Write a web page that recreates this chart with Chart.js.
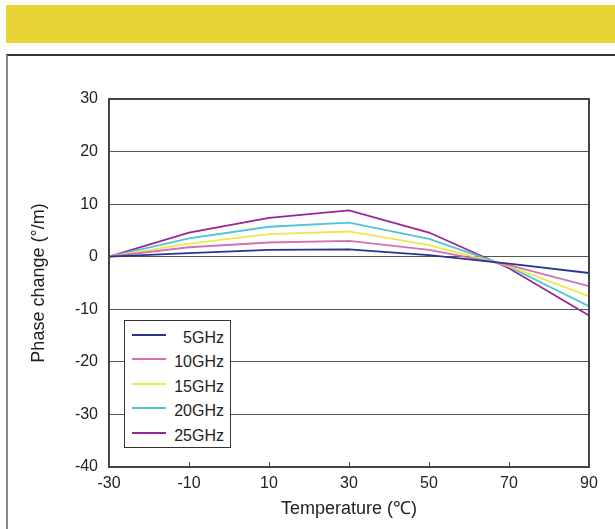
<!DOCTYPE html>
<html>
<head>
<meta charset="utf-8">
<script src="https://cdn.jsdelivr.net/npm/chart.js@4/dist/chart.umd.min.js"></script>
<style>
  html, body { margin: 0; padding: 0; background: #fff; }
  body { width: 615px; height: 529px; position: relative; overflow: hidden; font-family: "Liberation Sans", Arial, sans-serif; }
  .band { position: absolute; left: 6px; top: 5px; width: 609px; height: 38px; background: #e8d435; }
  .frame { position: absolute; left: 6px; top: 54px; width: 609px; height: 475px; border-top: 2px solid #333; border-left: 2px solid #8a8a8a; box-sizing: border-box; }
  #chart { position: absolute; left: 0; top: 0; }
  .legend { position: absolute; left: 124px; top: 320px; width: 107px; height: 128px; box-sizing: border-box; border: 1.5px solid #333; background: #fff; padding-top: 6px; }
  .legend .row { height: 24.4px; position: relative; font-size: 16px; color: #222; }
  .legend .swatch { position: absolute; left: 7px; top: 7px; width: 34px; height: 2px; }
  .legend .label { position: absolute; right: 6px; top: 2px; }
</style>
</head>
<body>
<div class="band"></div>
<div class="frame"></div>
<canvas id="chart" width="615" height="529"></canvas>
<div class="legend" id="legend"></div>
<script>
// temperature points (°C)
const temps = [-30, -10, 10, 30, 50, 70, 90];

// phase change per metre, one array per frequency
const ghz5  = [0, 0.7, 1.3, 1.4, 0.3, -1.3, -3.1];
const ghz10 = [0, 1.8, 2.7, 3.0, 1.3, -1.6, -5.6];
const ghz15 = [0, 2.5, 4.3, 4.8, 2.2, -1.8, -7.5];
const ghz20 = [0, 3.5, 5.7, 6.5, 3.4, -1.9, -9.4];
const ghz25 = [0, 4.6, 7.4, 8.8, 4.6, -2.2, -11.2];

const seriesNames  = ["5GHz", "10GHz", "15GHz", "20GHz", "25GHz"];
const seriesValues = [ghz5, ghz10, ghz15, ghz20, ghz25];
const seriesColors = ["#2a3590", "#d46fb5", "#eae84a", "#4cc6d4", "#9a2497"];

const xTicks = [-30, -10, 10, 30, 50, 70, 90];
const yMin = -40, yMax = 30;

const FONT = "'Liberation Sans', Arial, sans-serif";

// plot frame + short inward ticks on the bottom axis
const framePlugin = {
  id: "frame",
  afterDraw(chart) {
    const { ctx, chartArea: a, scales } = chart;
    ctx.save();
    ctx.strokeStyle = "#444";
    ctx.lineWidth = 2;
    ctx.strokeRect(a.left, a.top, a.right - a.left, a.bottom - a.top);
    ctx.lineWidth = 1;
    xTicks.slice(1, -1).forEach(t => {
      const x = Math.round(scales.x.getPixelForValue(t)) + 0.5;
      ctx.beginPath();
      ctx.moveTo(x, a.bottom);
      ctx.lineTo(x, a.bottom - 5);
      ctx.stroke();
    });
    ctx.restore();
  }
};

new Chart(document.getElementById("chart"), {
  type: "line",
  data: {
    datasets: seriesNames.map((name, i) => ({
      label: name,
      data: temps.map((t, j) => ({ x: t, y: seriesValues[i][j] })),
      borderColor: seriesColors[i],
      borderWidth: 1.8,
      pointRadius: 0,
      tension: 0,
      fill: false,
    })),
  },
  options: {
    responsive: false,
    animation: false,
    devicePixelRatio: 1,
    layout: { padding: { left: 0, top: 99, right: 26, bottom: 0 } },
    plugins: { legend: { display: false }, tooltip: { enabled: false } },
    scales: {
      x: {
        type: "linear",
        min: -30, max: 90,
        afterBuildTicks: s => { s.ticks = xTicks.map(v => ({ value: v })); },
        afterFit: s => { s.height = 62; },
        grid: { display: false, drawTicks: false },
        border: { display: false },
        ticks: { color: "#222", padding: 7, font: { family: FONT, size: 16 }, maxRotation: 0 },
        title: { display: true, text: "Temperature (℃)", color: "#222", font: { family: FONT, size: 18 }, padding: { top: 0, bottom: 9 } },
      },
      y: {
        min: yMin, max: yMax,
        afterFit: s => { s.width = 109; },
        grid: { color: "#555", lineWidth: 1, drawTicks: false },
        border: { display: false },
        ticks: { stepSize: 10, color: "#222", padding: 11, font: { family: FONT, size: 16 } },
        title: { display: true, text: "Phase change (°/m)", color: "#222", font: { family: FONT, size: 18 }, padding: { top: 28, bottom: 0 } },
      },
    },
  },
  plugins: [framePlugin],
});

// legend box sitting inside the plot
const legend = document.getElementById("legend");
seriesNames.forEach((name, i) => {
  const row = document.createElement("div");
  row.className = "row";
  row.innerHTML = `<span class="swatch" style="background:${seriesColors[i]}"></span><span class="label">${name}</span>`;
  legend.appendChild(row);
});
</script>
</body>
</html>
